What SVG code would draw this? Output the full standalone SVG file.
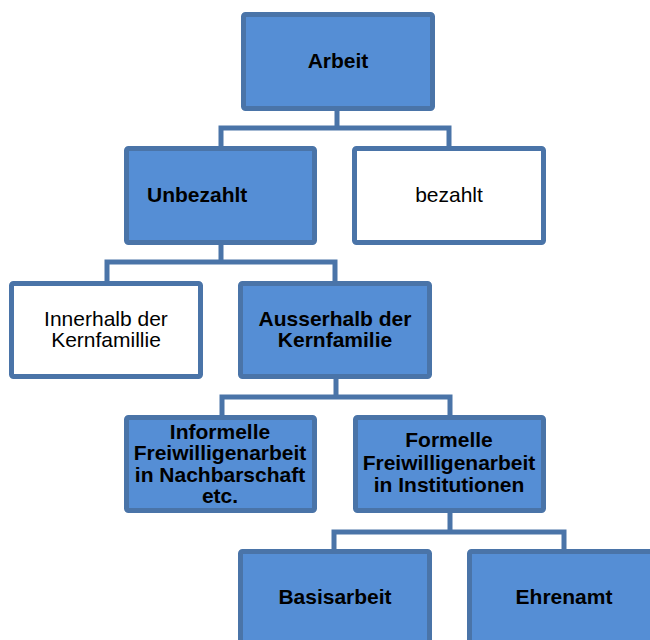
<svg xmlns="http://www.w3.org/2000/svg" width="650" height="640" viewBox="0 0 650 640">
<style>
.box{stroke:#4A74A8;stroke-width:5;rx:2}
.blue{fill:#558ED5}
.white{fill:#FFFFFF}
.t{font-family:"Liberation Sans",Arial,sans-serif;font-size:21px;fill:#000;text-anchor:middle}
.b{font-weight:bold}
.conn{fill:none;stroke:#4A74A8;stroke-width:5;stroke-linejoin:miter}
</style>
<rect width="650" height="640" fill="#fff"/>
<g id="connectors">
<path class="conn" d="M337,111 V128 M221,146 V128 H449 V146"/>
<path class="conn" d="M221,245 V262 M107,281 V262 H335 V281"/>
<path class="conn" d="M336,379 V397 M222,415 V397 H450 V415"/>
<path class="conn" d="M450,513 V532 M334,549 V532 H564 V549"/>
</g>
<g id="arbeit">
<rect class="box blue" x="243.5" y="14.5" width="189" height="94"/>
<text class="t b" x="338" y="68">Arbeit</text>
</g>
<g id="unbezahlt">
<rect class="box blue" x="126.5" y="148.5" width="188" height="94"/>
<text class="t b" x="147" y="202" style="text-anchor:start">Unbezahlt</text>
</g>
<g id="bezahlt">
<rect class="box white" x="354.5" y="148.5" width="189" height="94"/>
<text class="t" x="449" y="202">bezahlt</text>
</g>
<g id="innerhalb">
<rect class="box white" x="11.5" y="283.5" width="189" height="93"/>
<text class="t" x="106" y="326">Innerhalb der</text>
<text class="t" x="106" y="347">Kernfamillie</text>
</g>
<g id="ausserhalb">
<rect class="box blue" x="240.5" y="283.5" width="189" height="93"/>
<text class="t b" x="335" y="326">Ausserhalb der</text>
<text class="t b" x="335" y="347">Kernfamilie</text>
</g>
<g id="informelle">
<rect class="box blue" x="126.5" y="417.5" width="188" height="93"/>
<text class="t b" x="220" y="439">Informelle</text>
<text class="t b" x="220" y="460">Freiwilligenarbeit</text>
<text class="t b" x="220" y="482">in Nachbarschaft</text>
<text class="t b" x="220" y="503">etc.</text>
</g>
<g id="formelle">
<rect class="box blue" x="355.5" y="417.5" width="188" height="93"/>
<text class="t b" x="449" y="447">Formelle</text>
<text class="t b" x="449" y="470">Freiwilligenarbeit</text>
<text class="t b" x="449" y="492">in Institutionen</text>
</g>
<g id="basisarbeit">
<rect class="box blue" x="240.5" y="551.5" width="189" height="94"/>
<text class="t b" x="335" y="604">Basisarbeit</text>
</g>
<g id="ehrenamt">
<rect class="box blue" x="469.5" y="551.5" width="189" height="94"/>
<text class="t b" x="564" y="604">Ehrenamt</text>
</g>
</svg>
